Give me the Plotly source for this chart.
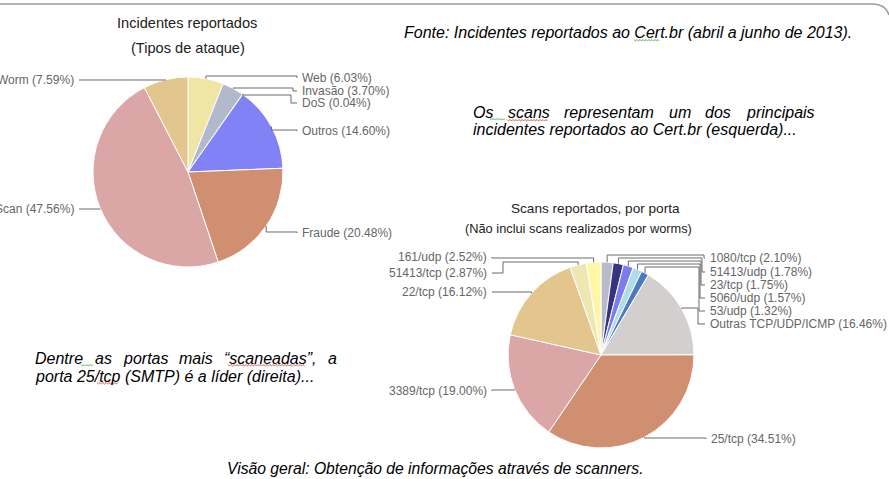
import math
import plotly.graph_objects as go

W, H = 889, 479

# ---------------- data ----------------
left_names = ["Web", "Invasão", "DoS", "Outros", "Fraude", "Scan", "Worm"]
left_values = [6.03, 3.70, 0.04, 14.60, 20.48, 47.56, 7.59]
left_colors = ["#EFE6A6", "#B2B9CC", "#6F74A8", "#8282F7", "#D08F71", "#DBA6A6", "#E3C68E"]

right_names = ["1080/tcp", "51413/udp", "23/tcp", "5060/udp", "53/udp",
               "Outras TCP/UDP/ICMP", "25/tcp", "3389/tcp", "22/tcp",
               "51413/tcp", "161/udp"]
right_values = [2.10, 1.78, 1.75, 1.57, 1.32, 16.46, 34.51, 19.00, 16.12, 2.87, 2.52]
right_colors = ["#B6BACA", "#35357F", "#7C7CEE", "#AEDCEC", "#4D79C0",
                "#D3CFCF", "#D08F71", "#DBA6A6", "#E3C68E", "#EFE7B2", "#FFF7A6"]

left_title = ["Incidentes reportados", "(Tipos de ataque)"]
right_title = ["Scans reportados, por porta", "(Não inclui scans realizados por worms)"]

# ---------------- layout (pixel positions) ----------------
left_pie = dict(cx=188, cy=172, r=95)
right_pie = dict(cx=601, cy=355, r=93)

# per slice: side, label y, horizontal leader y, elbow x, line-end x
left_leaders = [
    ("R", 78, 76, 297, 297),
    ("R", 91, 88, 293, 297),
    ("R", 103, 95, 291, 297),
    ("R", 131, 130, 297, 297),
    ("R", 233, 232, 297, 297),
    ("L", 209, 209, 79, 79),
    ("L", 80, 80, 79, 79),
]
right_leaders = [
    ("R", 258, 255, 704, 705),
    ("R", 272, 258, 702, 705),
    ("R", 285, 261, 701, 705),
    ("R", 298, 264, 700, 705),
    ("R", 311, 267, 699, 705),
    ("R", 324, 308, 698, 705),
    ("R", 439, 438, 706, 706),
    ("L", 391, 390, 492, 492),
    ("L", 292, 292, 492, 492),
    ("L", 273, 262, 503, 492),
    ("L", 257, 258, 492, 492),
]


def X(px):
    return px / W


def Y(py):
    return 1 - py / H


def domain(p):
    return dict(x=[X(p["cx"] - p["r"]), X(p["cx"] + p["r"])],
                y=[Y(p["cy"] + p["r"]), Y(p["cy"] - p["r"])])


fig = go.Figure()
for names, vals, cols, p in [(left_names, left_values, left_colors, left_pie),
                             (right_names, right_values, right_colors, right_pie)]:
    fig.add_trace(go.Pie(
        labels=names, values=vals, sort=False, direction="clockwise", rotation=0,
        marker=dict(colors=cols, line=dict(color="white", width=1)),
        textinfo="none", hoverinfo="label+percent", showlegend=False,
        domain=domain(p),
    ))

shapes = []
annotations = []
label_font = dict(family="Liberation Sans, Arial, sans-serif", size=12, color="#666666")


def add_leaders(names, vals, p, leaders):
    total = sum(vals)
    cum = 0.0
    for name, v, (side, ly, hy, ex, lx) in zip(names, vals, leaders):
        mid = (cum + v / 2) / total * 2 * math.pi
        cum += v
        px = p["cx"] + p["r"] * math.sin(mid)
        py = p["cy"] - p["r"] * math.cos(mid)
        pts = [(px, py), (px, hy), (ex, hy), (ex, ly), (lx, ly)]
        path = "M " + " L ".join(f"{X(a):.5f},{Y(b):.5f}" for a, b in pts)
        shapes.append(dict(type="path", path=path, xref="paper", yref="paper",
                           line=dict(color="#6A6A6A", width=1)))
        if side == "R":
            annotations.append(dict(x=X(lx + 3), y=Y(ly), xanchor="left", yanchor="middle",
                                    text=f"{name} ({v:.2f}%)", showarrow=False,
                                    font=label_font, xref="paper", yref="paper"))
        else:
            annotations.append(dict(x=X(lx - 3), y=Y(ly), xanchor="right", yanchor="middle",
                                    text=f"{name} ({v:.2f}%)", showarrow=False,
                                    font=label_font, xref="paper", yref="paper"))


add_leaders(left_names, left_values, left_pie, left_leaders)
add_leaders(right_names, right_values, right_pie, right_leaders)


def txt(s, x, y, size, color="#000", italic=False, anchor="left"):
    annotations.append(dict(
        x=X(x), y=Y(y), xref="paper", yref="paper", text=s, showarrow=False,
        xanchor=anchor, yanchor="middle",
        font=dict(family="Liberation Sans, Arial, sans-serif", size=size, color=color,
                  style="italic" if italic else "normal")))


# chart titles
txt(left_title[0], 187, 23, 14.6, "#222", anchor="center")
txt(left_title[1], 187.5, 48, 14.6, "#222", anchor="center")
txt(right_title[0], 595, 208, 13.6, "#222", anchor="center")
txt(right_title[1], 578, 229, 12.8, "#222", anchor="center")

# slide texts
txt("Fonte: Incidentes reportados ao Cert.br (abril a junho de 2013).", 402, 32, 16, italic=True)

line1_words = ["Os", "scans", "representam", "um", "dos", "principais"]
line1_x = [471, 506, 562, 666.5, 703, 743.5]
for w_, x_ in zip(line1_words, line1_x):
    txt(w_, x_, 112, 16, italic=True)
txt("incidentes reportados ao Cert.br (esquerda)...", 471, 129.5, 16, italic=True)

line2_words = ["Dentre", "as", "portas", "mais", "“scaneadas”,", "a"]
line2_x = [33, 92.5, 121, 177, 222, 326]
for w_, x_ in zip(line2_words, line2_x):
    txt(w_, x_, 358, 16, italic=True)
txt("porta 25/tcp (SMTP) é a líder (direita)...", 33, 376, 16, italic=True)

txt("Visão geral: Obtenção de informações através de scanners.", 225, 468.5, 15.7, italic=True)


# spell-check squiggles (decorative)
def squiggle(x0, x1, y, color):
    pts = []
    x = x0
    k = 0
    while x <= x1:
        pts.append((x, y + (1 if k % 2 else -0.5)))
        x += 1.5
        k += 1
    path = "M " + " L ".join(f"{X(a):.5f},{Y(b):.5f}" for a, b in pts)
    shapes.append(dict(type="path", path=path, xref="paper", yref="paper",
                       line=dict(color=color, width=0.8)))


squiggle(634, 660, 40, "#3A9A3A")
squiggle(490, 505, 119, "#3A9A3A")
squiggle(507, 548, 120, "#D03030")
squiggle(81, 93, 365, "#3A9A3A")
squiggle(228, 305, 365, "#D03030")
squiggle(97, 118, 383, "#D03030")

# slide frame (top edge with rounded corner)
path = f"M {X(0):.5f},{Y(4):.5f} L {X(874):.5f},{Y(4):.5f} Q {X(886):.5f},{Y(5):.5f} {X(889):.5f},{Y(15):.5f}"
shapes.append(dict(type="path", path=path, xref="paper", yref="paper",
                   line=dict(color="#9A9A9A", width=1.5)))

fig.update_layout(
    width=W, height=H, margin=dict(l=0, r=0, t=0, b=0),
    paper_bgcolor="white", plot_bgcolor="white",
    shapes=shapes, annotations=annotations, showlegend=False,
)

fig.write_html("out.html")
